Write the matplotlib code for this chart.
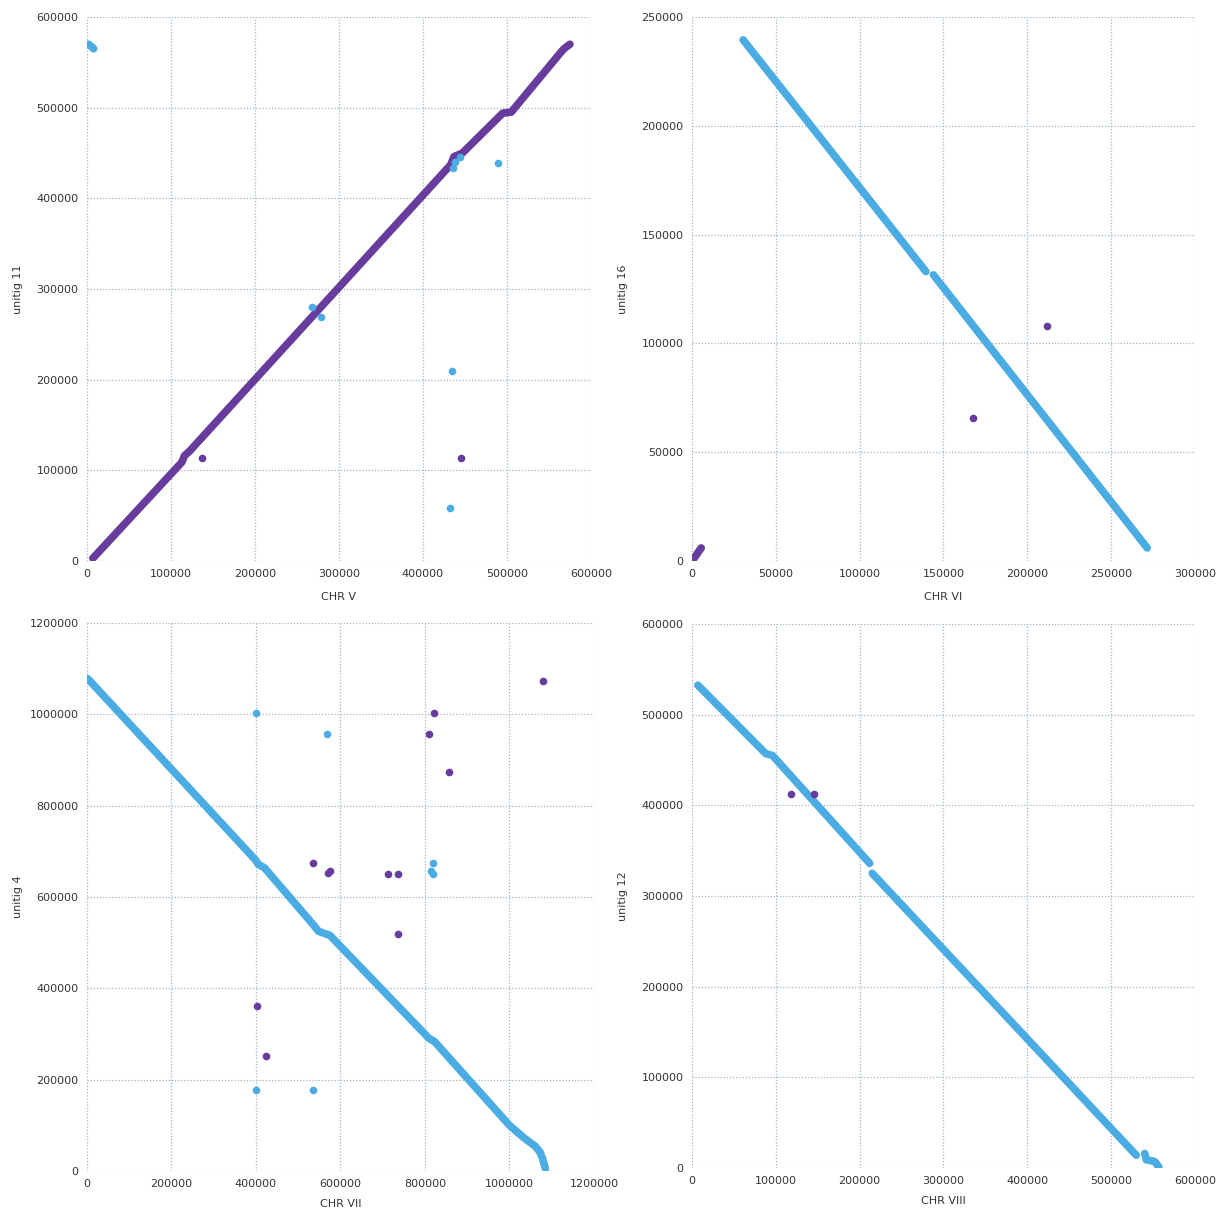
import matplotlib.pyplot as plt
from matplotlib.ticker import ScalarFormatter

BLUE = "#4aace2"
PURPLE = "#673c9d"
GRID = "#9fb4c4"

# ---- CHR V vs unitig 11 ----
chr5_fwd_x = [7000, 113000, 116000, 122000, 433000, 437000, 447000, 495000, 505000, 565000, 568000, 575000]
chr5_fwd_y = [3000, 109000, 116000, 121000, 437000, 446000, 450000, 494000, 495000, 562000, 565000, 570000]
chr5_rev_x = [2000, 8000]
chr5_rev_y = [570000, 565000]
chr5_fwd_pts_x = [137000, 445000]
chr5_fwd_pts_y = [114000, 114000]
chr5_rev_pts_x = [268000, 279000, 436000, 438000, 444000, 489000, 435000, 432000]
chr5_rev_pts_y = [280000, 269000, 433000, 440000, 446000, 439000, 209000, 58000]

# ---- CHR VI vs unitig 16 ----
chr6_rev_x = [30500, 139500]
chr6_rev_y = [239500, 133000]
chr6_rev2_x = [144000, 271500]
chr6_rev2_y = [131500, 6000]
chr6_fwd_x = [800, 5500]
chr6_fwd_y = [800, 6000]
chr6_fwd_pts_x = [167500, 212000]
chr6_fwd_pts_y = [65500, 108000]

# ---- CHR VII vs unitig 4 ----
chr7_rev_x = [2000, 400000, 405000, 420000, 535000, 548000, 575000, 810000, 822000,
              1000000, 1035000, 1060000, 1072000, 1078000, 1085000]
chr7_rev_y = [1078000, 680000, 672000, 664000, 540000, 525000, 516000, 290000, 284000,
              100000, 72000, 55000, 42000, 28000, 5000]
chr7_rev_pts_x = [400000, 568000, 400000, 535000, 818000, 815000, 820000]
chr7_rev_pts_y = [1003000, 957000, 177000, 177000, 675000, 658000, 651000]
chr7_fwd_pts_x = [535000, 570000, 575000, 712000, 736000, 736000, 403000, 423000,
                  809000, 822000, 857000, 1079000]
chr7_fwd_pts_y = [675000, 652000, 656000, 651000, 651000, 519000, 362000, 252000,
                  957000, 1003000, 873000, 1073000]

# ---- CHR VIII vs unitig 12 ----
chr8_rev_x = [7000, 88000, 96000, 212000]
chr8_rev_y = [532500, 457000, 455000, 336000]
chr8_rev2_x = [215000, 530000]
chr8_rev2_y = [325000, 14000]
chr8_rev3_x = [540000, 542000, 548000, 552000, 557000]
chr8_rev3_y = [16000, 9000, 8000, 7000, 1000]
chr8_fwd_pts_x = [118000, 146000]
chr8_fwd_pts_y = [412000, 413000]

fig = plt.figure(figsize=(12.25, 12.14), dpi=100)


def style(ax, xmax, xstep, ymax, ystep, xlabel, ylabel, xlab_y):
    ax.set_xlim(0, xmax)
    ax.set_ylim(0, ymax)
    ax.set_xticks(range(0, xmax + 1, xstep))
    ax.set_yticks(range(0, ymax + 1, ystep))
    for axis in (ax.xaxis, ax.yaxis):
        fmt = ScalarFormatter(useOffset=False)
        fmt.set_scientific(False)
        axis.set_major_formatter(fmt)
    ax.grid(True, linestyle=(0, (1, 1.5)), color=GRID, linewidth=0.9)
    for s in ax.spines.values():
        s.set_visible(False)
    ax.tick_params(length=0, labelsize=8, labelcolor="#333333", pad=6)
    ax.set_xlabel(xlabel, fontsize=8, color="#333333")
    ax.set_ylabel(ylabel, fontsize=8, color="#333333")
    ax.xaxis.set_label_coords(0.5, xlab_y)
    ax.yaxis.set_label_coords(-0.127, 0.5)
    ax.set_axisbelow(True)


def seg(ax, x, y, color):
    ax.plot(x, y, color=color, linewidth=5.5, solid_capstyle="round",
            solid_joinstyle="round")


def dots(ax, x, y, color):
    ax.plot(x, y, "o", color=color, markersize=5.5, markeredgewidth=0)


ax1 = fig.add_axes([0.0710, 0.5379, 0.4114, 0.4481])
seg(ax1, chr5_fwd_x, chr5_fwd_y, PURPLE)
seg(ax1, chr5_rev_x, chr5_rev_y, BLUE)
dots(ax1, chr5_fwd_pts_x, chr5_fwd_pts_y, PURPLE)
dots(ax1, chr5_rev_pts_x, chr5_rev_pts_y, BLUE)
style(ax1, 600000, 100000, 600000, 100000, "CHR V", "unitig 11", -0.057)

ax2 = fig.add_axes([0.5649, 0.5379, 0.4106, 0.4481])
seg(ax2, chr6_rev_x, chr6_rev_y, BLUE)
seg(ax2, chr6_rev2_x, chr6_rev2_y, BLUE)
seg(ax2, chr6_fwd_x, chr6_fwd_y, PURPLE)
dots(ax2, chr6_fwd_pts_x, chr6_fwd_pts_y, PURPLE)
style(ax2, 300000, 50000, 250000, 50000, "CHR VI", "unitig 16", -0.057)

ax3 = fig.add_axes([0.0710, 0.0354, 0.4139, 0.4514])
seg(ax3, chr7_rev_x, chr7_rev_y, BLUE)
dots(ax3, chr7_rev_pts_x, chr7_rev_pts_y, BLUE)
dots(ax3, chr7_fwd_pts_x, chr7_fwd_pts_y, PURPLE)
style(ax3, 1200000, 200000, 1200000, 200000, "CHR VII", "unitig 4", -0.051)

ax4 = fig.add_axes([0.5649, 0.0379, 0.4106, 0.4481])
seg(ax4, chr8_rev_x, chr8_rev_y, BLUE)
seg(ax4, chr8_rev2_x, chr8_rev2_y, BLUE)
seg(ax4, chr8_rev3_x, chr8_rev3_y, BLUE)
dots(ax4, chr8_fwd_pts_x, chr8_fwd_pts_y, PURPLE)
style(ax4, 600000, 100000, 600000, 100000, "CHR VIII", "unitig 12", -0.051)

fig.savefig("out.png", dpi=100)
